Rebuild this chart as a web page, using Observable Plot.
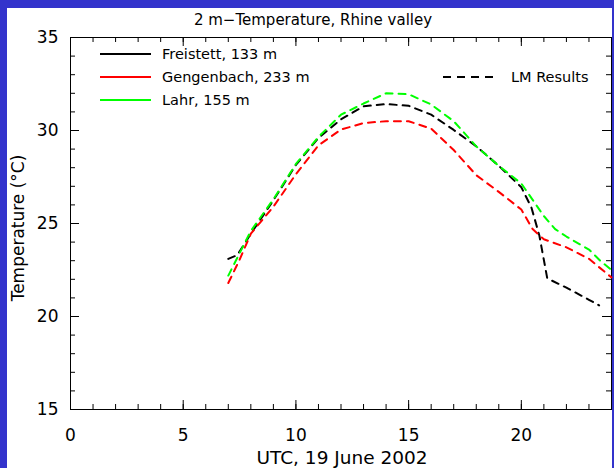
<!DOCTYPE html>
<html><head><meta charset="utf-8">
<script src="https://cdn.jsdelivr.net/npm/d3@7"></script>
<script src="https://cdn.jsdelivr.net/npm/@observablehq/plot@0.6"></script>
<style>
html,body{margin:0;padding:0;background:#3333cc;width:614px;height:468px;overflow:hidden;}
#panel{position:absolute;left:7px;top:8px;width:605px;height:460px;background:#fff;}
</style></head><body><div id="panel"></div>
<script>
// ---- data ----
const hoursFreistett = [7, 7.4, 8, 9, 10, 11, 12, 13, 14, 15, 16, 17, 18, 19, 20, 20.45, 20.8, 21.15, 22, 23, 23.45];
const tempFreistett  = [23.1, 23.3, 24.45, 26.25, 28.15, 29.6, 30.6, 31.3, 31.42, 31.33, 30.85, 30.03, 29.15, 28.1, 26.95, 25.85, 24.35, 22.05, 21.55, 20.9, 20.6];
const hoursGengenbach = [7, 7.5, 8, 9, 10, 11, 12, 13, 14, 15, 16, 17, 18, 19, 20, 20.5, 21, 22, 23, 24];
const tempGengenbach  = [21.8, 23.05, 24.45, 25.9, 27.65, 29.2, 30.05, 30.4, 30.5, 30.5, 30.1, 28.95, 27.6, 26.7, 25.75, 24.7, 24.15, 23.72, 23.1, 22.1];
const hoursLahr = [7, 7.5, 8, 9, 10, 11, 12, 13, 14, 15, 16, 17, 18, 19, 20, 21, 21.5, 22, 23, 23.5, 24];
const tempLahr  = [22.2, 23.4, 24.6, 26.3, 28.2, 29.65, 30.85, 31.45, 32.0, 31.95, 31.4, 30.5, 29.15, 28.1, 27.15, 25.4, 24.7, 24.3, 23.6, 23.0, 22.5];

const stationNames = ["Freistett, 133 m", "Gengenbach, 233 m", "Lahr, 155 m"];
const stationColors = ["#000000", "#ff0000", "#00ff00"];
const modelLabel = "LM Results";

const xMajor = [0, 5, 10, 15, 20];
const xMinor = [0,1,2,3,4,5,6,7,8,9,10,11,12,13,14,15,16,17,18,19,20,21,22,23,24];
const yMajor = [15, 20, 25, 30, 35];
const yMinor = [15,16,17,18,19,20,21,22,23,24,25,26,27,28,29,30,31,32,33,34,35];

const titleText = "2 m\u2212Temperature, Rhine valley";
const xTitle = "UTC, 19 June 2002";
const yTitle = "Temperature (\u00b0C)";

const toRows = (hs, ts) => hs.map((h, i) => ({h, t: ts[i]}));
const series = [
  toRows(hoursFreistett, tempFreistett),
  toRows(hoursGengenbach, tempGengenbach),
  toRows(hoursLahr, tempLahr)
];

const dash = "7,6";
const font = "DejaVu Sans";

const W = 605, H = 460, mL = 63, mR = 1, mT = 29, mB = 59;
const innerW = W - mL - mR, innerH = H - mT - mB;
const minorLen = 5, majorLen = 9;

const plot = Plot.plot({
  width: W,
  height: H,
  marginLeft: mL,
  marginRight: mR,
  marginTop: mT,
  marginBottom: mB,
  style: {fontFamily: font, fontSize: "17px", color: "black", background: "white", overflow: "visible"},
  x: {domain: [0, 24]},
  y: {domain: [15, 35]},
  marks: [
    // inward ticks: minor
    Plot.ruleX(xMinor, {x: d => d, insetTop: innerH - minorLen, stroke: "black"}),
    Plot.ruleX(xMinor, {x: d => d, insetBottom: innerH - minorLen, stroke: "black"}),
    Plot.ruleY(yMinor, {y: d => d, insetRight: innerW - minorLen, stroke: "black"}),
    Plot.ruleY(yMinor, {y: d => d, insetLeft: innerW - minorLen, stroke: "black"}),
    // inward ticks: major
    Plot.ruleX(xMajor, {x: d => d, insetTop: innerH - majorLen, stroke: "black"}),
    Plot.ruleX(xMajor, {x: d => d, insetBottom: innerH - majorLen, stroke: "black"}),
    Plot.ruleY(yMajor, {y: d => d, insetRight: innerW - majorLen, stroke: "black"}),
    Plot.ruleY(yMajor, {y: d => d, insetLeft: innerW - majorLen, stroke: "black"}),
    Plot.frame({stroke: "black", strokeWidth: 1}),
    // tick labels
    Plot.axisX(xMajor, {anchor: "bottom", tickSize: 0, tickPadding: 19, label: null, fontSize: 17}),
    Plot.axisY(yMajor, {anchor: "left", tickSize: 0, tickPadding: 12, label: null, fontSize: 17}),
    // model curves (dashed)
    ...series.map((rows, i) => Plot.line(rows, {
      x: "h", y: "t", stroke: stationColors[i], strokeWidth: 2, strokeDasharray: dash
    }))
  ]
});

document.getElementById("panel").append(plot);

const svg = d3.select(plot);
// title
svg.append("text").attr("x", 306).attr("y", 17).attr("text-anchor", "middle")
  .attr("font-family", font).attr("font-size", 15).attr("fill", "black").text(titleText);
// x title
svg.append("text").attr("x", 335).attr("y", 456).attr("text-anchor", "middle")
  .attr("font-family", font).attr("font-size", 18.5).attr("fill", "black").text(xTitle);
// y title
svg.append("text").attr("transform", "translate(11,220) rotate(-90)").attr("text-anchor", "middle")
  .attr("dominant-baseline", "central")
  .attr("font-family", font).attr("font-size", 17).attr("fill", "black").text(yTitle);

// legend
const legY = [46, 69, 92];
stationNames.forEach((name, i) => {
  svg.append("line").attr("x1", 93).attr("x2", 144).attr("y1", legY[i]).attr("y2", legY[i])
    .attr("stroke", stationColors[i]).attr("stroke-width", 2);
  svg.append("text").attr("x", 155).attr("y", legY[i]).attr("dominant-baseline", "central")
    .attr("text-anchor", "start")
    .attr("font-family", font).attr("font-size", 14.5).attr("fill", "black").text(name);
});
svg.append("line").attr("x1", 436).attr("x2", 488).attr("y1", 69).attr("y2", 69)
  .attr("stroke", "black").attr("stroke-width", 2).attr("stroke-dasharray", "8,6");
svg.append("text").attr("x", 504).attr("y", 69).attr("dominant-baseline", "central")
  .attr("text-anchor", "start")
  .attr("font-family", font).attr("font-size", 14.5).attr("fill", "black").text(modelLabel);
</script>
</body></html>
